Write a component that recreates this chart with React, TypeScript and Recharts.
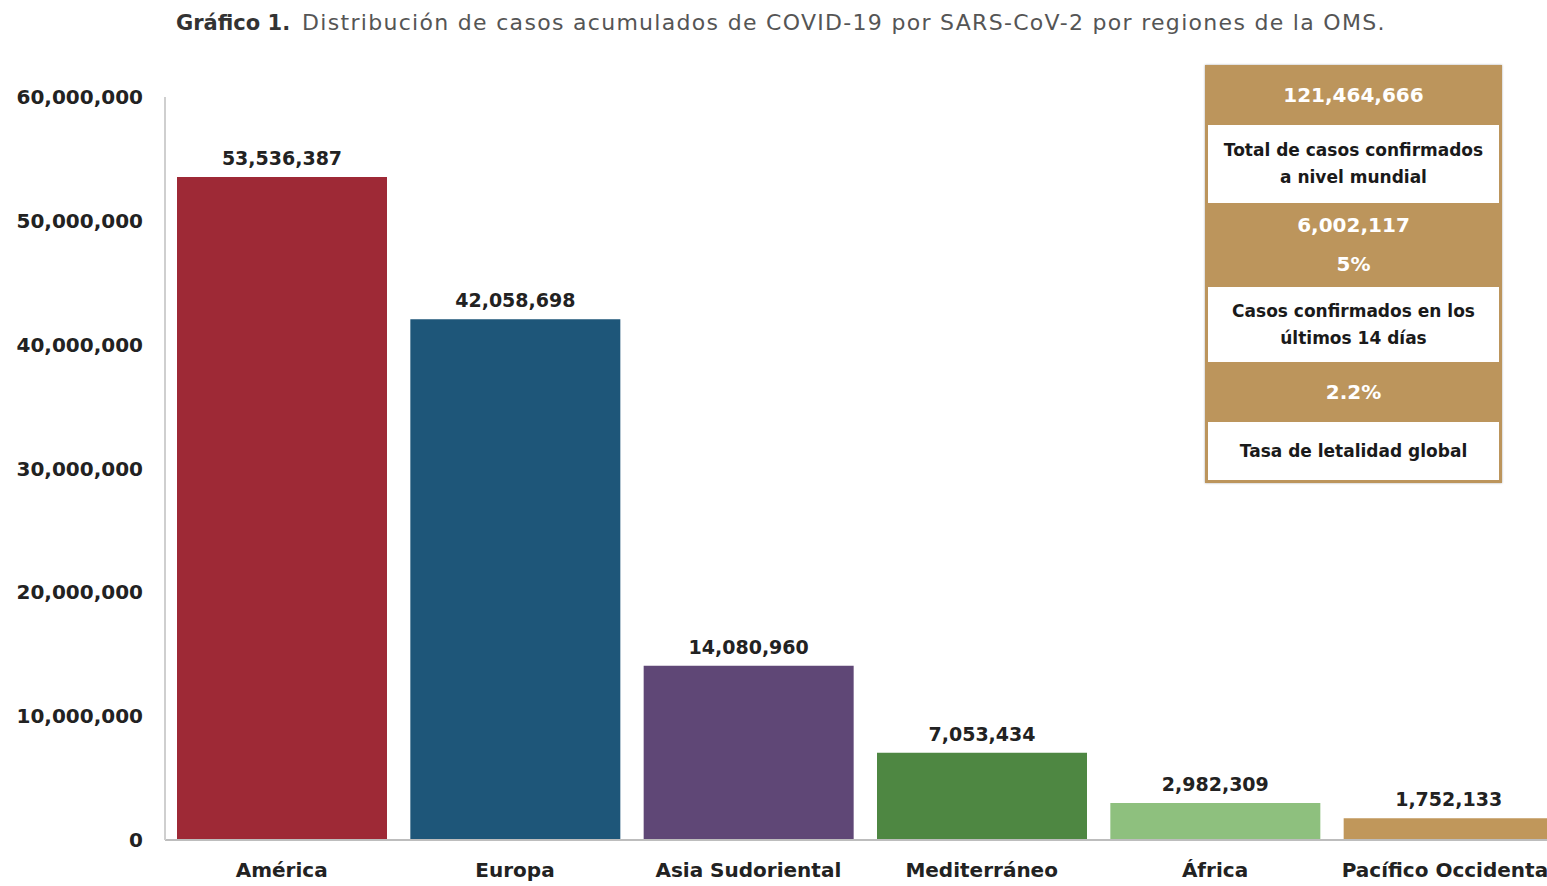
import { BarChart, Bar, XAxis, YAxis, Cell, LabelList } from 'recharts';

// Regiones de la OMS y casos acumulados
const regions = ['América', 'Europa', 'Asia Sudoriental', 'Mediterráneo\nOriental', 'África', 'Pacífico Occidental'];
const cases = [53536387, 42058698, 14080960, 7053434, 2982309, 1752133];
const barColors = ['#9E2936', '#1E5679', '#5F4776', '#4E8742', '#8EC07E', '#C0975B'];
const yTicks = [0, 10000000, 20000000, 30000000, 40000000, 50000000, 60000000];

const titleBold = 'Gráfico 1.';
const titleText = 'Distribución de casos acumulados de COVID-19 por SARS-CoV-2 por regiones de la OMS.';

const summaryRows = [
    { type: 'value', lines: ['121,464,666'] },
    { type: 'label', lines: ['Total de casos confirmados', 'a nivel mundial'] },
    { type: 'value', lines: ['6,002,117', '5%'] },
    { type: 'label', lines: ['Casos confirmados en los', 'últimos 14 días'] },
    { type: 'value', lines: ['2.2%'] },
    { type: 'label', lines: ['Tasa de letalidad global'] },
];

const data = regions.map((region, i) => ({ region, cases: cases[i] }));

const fmt = (v: number) => v.toLocaleString('en-US');
const FONT = '"DejaVu Sans", sans-serif';
const GOLD = '#BC955C';

const CategoryTick = ({ x, y, payload }: any) => {
    const lines = String(payload.value).split('\n');
    return (
        <text x={x} y={y} textAnchor="middle" fontFamily={FONT} fontWeight="bold" fontSize={20} fill="#222">
            {lines.map((line, i) => (
                <tspan key={i} x={x} dy={i === 0 ? 15 : 24}>{line}</tspan>
            ))}
        </text>
    );
};

const SummaryBox = () => {
    const rowHeights = [60, 78, 84, 75, 60, 58];
    return (
        <div style={{
            position: 'absolute', left: 1205, top: 65, width: 291, padding: '0 3px 3px 3px',
            background: GOLD, boxShadow: '0 0 2px rgba(0,0,0,0.35)', fontFamily: FONT, fontWeight: 'bold',
        }}>
            {summaryRows.map((row, i) => (
                <div key={i} style={{
                    height: rowHeights[i], display: 'flex', flexDirection: 'column', justifyContent: 'center',
                    alignItems: 'center', textAlign: 'center',
                    background: row.type === 'value' ? GOLD : '#fff',
                    color: row.type === 'value' ? '#fff' : '#1a1a1a',
                    fontSize: row.type === 'value' ? 20 : 17,
                    lineHeight: row.type === 'value' ? '39px' : '27px',
                }}>
                    {row.lines.map((l, j) => <div key={j}>{l}</div>)}
                </div>
            ))}
        </div>
    );
};

export default function App() {
    return (
        <div style={{ position: 'fixed', left: 0, top: 0, width: 1547, height: 886, overflow: 'hidden', background: '#fff' }}>
            <div style={{ position: 'absolute', left: 176, top: 10, fontFamily: FONT, fontSize: 22, whiteSpace: 'nowrap', color: '#555' }}>
                <span style={{ fontWeight: 'bold', color: '#333', fontSize: 21 }}>{titleBold}</span>
                <span style={{ marginLeft: 12, letterSpacing: 1.3 }}>{titleText}</span>
            </div>

            <div style={{ position: 'absolute', left: 0, top: 0 }}>
                <BarChart
                    width={1570}
                    height={920}
                    data={data}
                    margin={{ top: 97, right: 5, left: 0, bottom: 34 }}
                    barCategoryGap={23}
                >
                    <XAxis
                        dataKey="region"
                        height={46}
                        interval={0}
                        tickLine={false}
                        tickSize={0}
                        tickMargin={22}
                        axisLine={{ stroke: '#bdbdbd', strokeWidth: 2 }}
                        tick={<CategoryTick />}
                    />
                    <YAxis
                        width={165}
                        domain={[0, 60000000]}
                        ticks={yTicks}
                        tickFormatter={fmt}
                        tickLine={false}
                        tickSize={0}
                        tickMargin={22}
                        axisLine={{ stroke: '#cfcfcf', strokeWidth: 2 }}
                        tick={{ fontFamily: FONT, fontWeight: 'bold', fontSize: 20, fill: '#222' }}
                    />
                    <Bar dataKey="cases" barSize={210} isAnimationActive={false}>
                        {data.map((d, i) => <Cell key={d.region} fill={barColors[i]} />)}
                        <LabelList
                            dataKey="cases"
                            position="top"
                            offset={12}
                            formatter={(v: any) => fmt(Number(v))}
                            style={{ fontFamily: FONT, fontWeight: 'bold', fontSize: 19, fill: '#222' }}
                        />
                    </Bar>
                </BarChart>
            </div>

            <SummaryBox />
        </div>
    );
}
